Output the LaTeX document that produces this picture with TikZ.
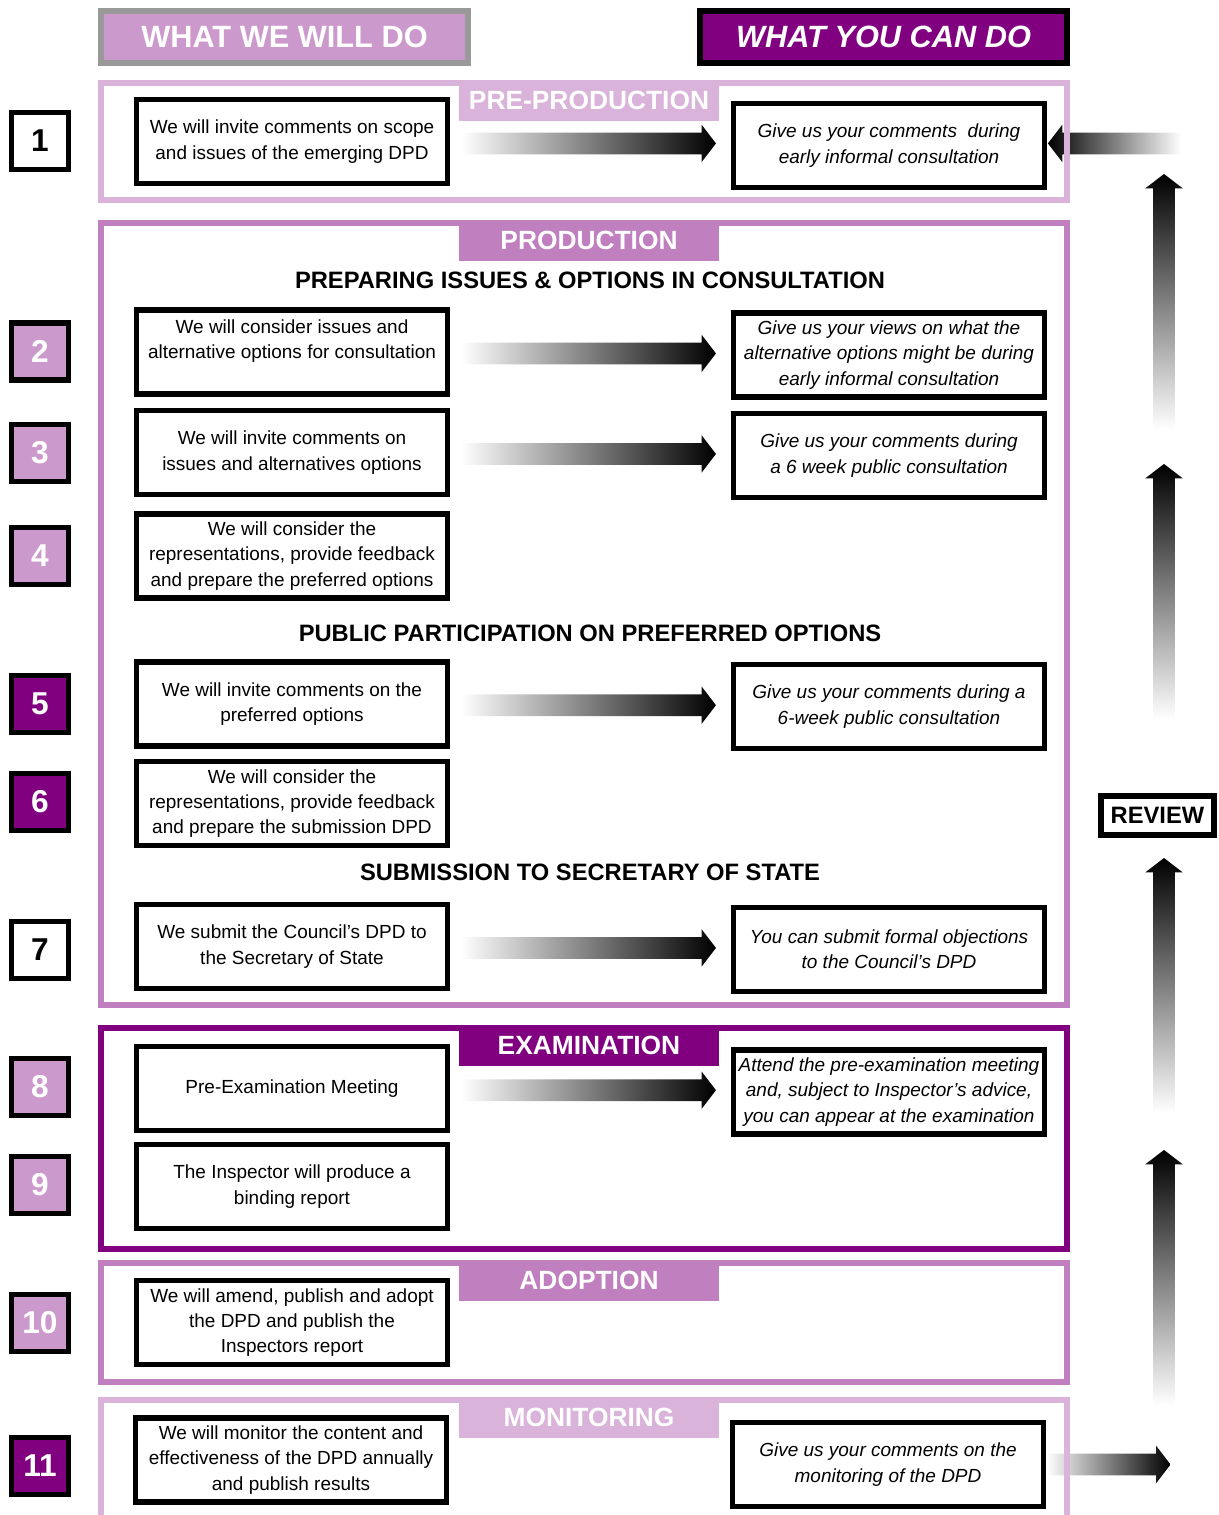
\documentclass[tikz,border=0pt]{standalone}
\usepackage{fontspec}
\setmainfont{Liberation Sans}
\usepackage{tikz}
\usetikzlibrary{shapes.arrows}
\definecolor{lilac}{HTML}{CC99CC}
\definecolor{paleorchid}{HTML}{D9B3D9}
\definecolor{orchid}{HTML}{C080C0}
\definecolor{plum}{HTML}{800080}
\definecolor{greyline}{HTML}{999999}
\tikzstyle{weblock}=[draw, line width=3pt, fill=white, minimum width=6.22cm, minimum height=1.68cm, inner sep=0pt, align=center, font=\fontsize{10.8}{14.4}\selectfont]
\tikzstyle{youblock}=[weblock, font=\fontsize{10.8}{14.4}\selectfont\itshape]
\tikzstyle{numbox}=[draw, line width=3pt, minimum size=1.14cm, inner sep=0pt, font=\fontsize{18}{18}\selectfont\bfseries]
\tikzstyle{numlight}=[numbox, fill=lilac, text=white]
\tikzstyle{numdark}=[numbox, fill=plum, text=white]
\tikzstyle{headbox}=[line width=3.2pt, minimum width=7.34cm, minimum height=1.04cm, inner sep=0pt, text=white, font=\fontsize{17.5}{17.5}\selectfont\bfseries]
\tikzstyle{stageframe}=[line width=3pt]
\tikzstyle{stagetab}=[anchor=north, minimum width=5.2cm, minimum height=0.82cm, inner sep=0pt, text=white, font=\fontsize{15}{15}\selectfont\bfseries]
\tikzstyle{stagehead}=[font=\fontsize{13.5}{16}\selectfont\bfseries]
\tikzstyle{shadearrow}=[pos=0.478, single arrow, single arrow head extend=0.16cm, single arrow tip angle=105, inner xsep=0pt, inner ysep=0.21cm, minimum width=0pt, minimum height=5.1cm, left color=white, right color=black]
\tikzstyle{uparrow}=[shadearrow, rotate=90, top color=black, bottom color=white]

\begin{document}
\begin{tikzpicture}[x=0.02cm, y=-0.02cm]
	\clip (0,0) rectangle (1218,1515);
	\begin{scope}
		\node (we) at (284.5,37)[headbox, draw=greyline, fill=lilac] {WHAT WE WILL DO};
		\node (you) at (883.5,37)[headbox, draw=black, fill=plum] {\itshape WHAT YOU CAN DO};
		\node (s1) at (590,280)[stagehead] {PREPARING ISSUES \& OPTIONS IN CONSULTATION};
		\node (s2) at (590,633)[stagehead] {PUBLIC PARTICIPATION ON PREFERRED OPTIONS};
		\node (s3) at (590,872)[stagehead] {SUBMISSION TO SECRETARY OF STATE};
		\node (n1) at (40,141)[numbox] {1};
		\node (n2) at (40,351.5)[numlight] {2};
		\node (n3) at (40,453)[numlight] {3};
		\node (n4) at (40,556)[numlight] {4};
		\node (n5) at (40,704)[numdark] {5};
		\node (n6) at (40,802)[numdark] {6};
		\node (n7) at (40,950)[numbox] {7};
		\node (n8) at (40,1087)[numlight] {8};
		\node (n9) at (40,1185)[numlight] {9};
		\node (n10) at (40,1323)[numlight] {10};
		\node (n11) at (40,1466)[numdark] {11};
		\node (l1) at (292,141.5)[weblock] {We will invite comments on scope\\and issues of the emerging DPD};
		\node (l2) at (292,352)[weblock] {We will consider issues and\\alternative options for consultation\\~};
		\node (l3) at (292,452.5)[weblock] {We will invite comments on\\issues and alternatives options};
		\node (l4) at (292,556)[weblock] {We will consider the\\representations, provide feedback\\and prepare the preferred options};
		\node (l5) at (292,704)[weblock] {We will invite comments on the\\preferred options};
		\node (l6) at (292,803.5)[weblock] {We will consider the\\representations, provide feedback\\and prepare the submission DPD};
		\node (l7) at (292,946.5)[weblock] {We submit the Council's DPD to\\the Secretary of State};
		\node (l8) at (292,1088.5)[weblock] {Pre-Examination Meeting};
		\node (l9) at (292,1186.5)[weblock] {The Inspector will produce a\\binding report};
		\node (l10) at (292,1322.5)[weblock] {We will amend, publish and adopt\\the DPD and publish the\\Inspectors report};
		\node (l11) at (291,1460)[weblock] {We will monitor the content and\\effectiveness of the DPD annually\\and publish results};
		\node (r1) at (889,145.5)[youblock] {Give us your comments~ during\\early informal consultation};
		\node (r2) at (889,355)[youblock] {Give us your views on what the\\alternative options might be during\\early informal consultation};
		\node (r3) at (889,455.5)[youblock] {Give us your comments during\\a 6 week public consultation};
		\node (r5) at (889,706.5)[youblock] {Give us your comments during a\\6-week public consultation};
		\node (r7) at (889,949.5)[youblock] {You can submit formal objections\\to the Council's DPD};
		\node (r8) at (889,1092)[youblock] {Attend the pre-examination meeting\\and, subject to Inspector's advice,\\you can appear at the examination};
		\node (r11) at (888,1464.5)[youblock] {Give us your comments on the\\monitoring of the DPD};
		\node (review) at (1157.5,815.5)[draw, line width=3pt, fill=white, minimum width=2.26cm, minimum height=0.78cm, inner sep=0pt, font=\fontsize{13.5}{13.5}\selectfont\bfseries] {REVIEW};
		\coordinate (in) at (1184,141.5);
		\coordinate (out) at (1168,1464.5);
		\coordinate (b1) at (1164,428);
		\coordinate (t1) at (1164,172);
		\coordinate (b2) at (1164,717);
		\coordinate (t2) at (1164,463);
		\coordinate (b3) at (1164,1112);
		\coordinate (t3) at (1164,856);
		\coordinate (b4) at (1164,1403);
		\coordinate (t4) at (1164,1149);
	\end{scope}
	\begin{scope}
		\foreach \a/\b in {l1/r1, l2/r2, l3/r3, l5/r5, l7/r7, l8/r8}
			\path (\a.east) -- node[shadearrow] {} (\b.west);
		\foreach \i in {1,...,4}
			\path (b\i) -- node[uparrow] {} (t\i);
		\path (in) -- node[shadearrow, rotate=180, minimum height=2.66cm, left color=black, right color=white] {} (r1.east);
		\path (r11.east) -- node[shadearrow, minimum height=2.48cm] {} (out);
	\end{scope}
	\begin{scope}
		\draw[stageframe, paleorchid] (101,83) rectangle (1067,200);
		\draw[stageframe, orchid] (101,223) rectangle (1067,1005);
		\draw[stageframe, plum] (101,1028) rectangle (1067,1249);
		\draw[stageframe, orchid] (101,1263) rectangle (1067,1382);
		\draw[stageframe, paleorchid] (101,1400) rectangle (1067,1540);
		\node (pre) at (589,80)[stagetab, fill=paleorchid] {PRE-PRODUCTION};
		\node (prod) at (589,220)[stagetab, fill=orchid] {PRODUCTION};
		\node (exam) at (589,1025)[stagetab, fill=plum] {EXAMINATION};
		\node (adopt) at (589,1260)[stagetab, fill=orchid] {ADOPTION};
		\node (mon) at (589,1397)[stagetab, fill=paleorchid] {MONITORING};
	\end{scope}
\end{tikzpicture}
\end{document}
